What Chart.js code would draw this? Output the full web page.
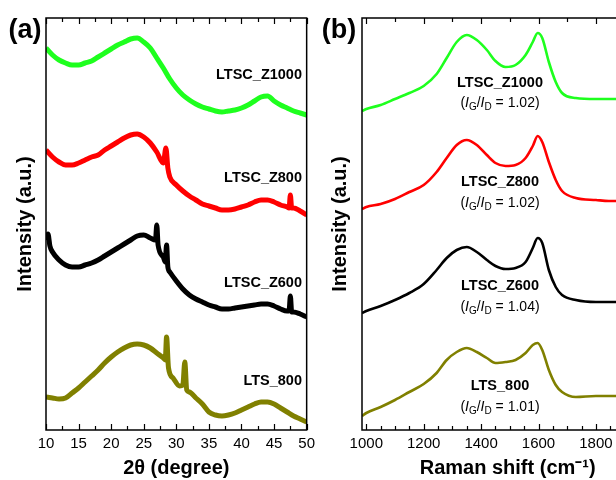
<!DOCTYPE html>
<html>
<head>
<meta charset="utf-8">
<script src="https://cdn.jsdelivr.net/npm/chart.js@4.4.0/dist/chart.umd.min.js"></script>
<style>
  html, body { margin: 0; padding: 0; background: #fff; overflow: hidden; }
  #wrap { position: relative; width: 616px; height: 480px; overflow: hidden; }
  #boxA { position: absolute; left: 0; top: 0; width: 320px; height: 480px; }
  #boxB { position: absolute; left: 310px; top: 0; width: 365px; height: 480px; }
</style>
</head>
<body>
<div id="wrap">
  <div id="boxA"><canvas id="xrdChart"></canvas></div>
  <div id="boxB"><canvas id="ramanChart"></canvas></div>
</div>
<script>
// sample names, top to bottom
const sampleNames = ['LTSC_Z1000', 'LTSC_Z800', 'LTSC_Z600', 'LTS_800'];
const seriesColors = ['#1eff1e', '#ff0000', '#000000', '#808000'];
const ratioValues = ['1.02', '1.02', '1.04', '1.01'];

// (a) XRD, [2theta, intensity (a.u., offset)]
const xrdTicks = [10, 15, 20, 25, 30, 35, 40, 45, 50];
const xrdZ1000 = [[10,382],[11,375],[12,370],[13,367],[14,365],[15,365],[16,367],[17,369],[18,373],[19,377],[20,381],[21,385],[22,388],[23,391],[24,392],[25,388],[26,382],[27,372],[28,362],[29,351],[30,342],[31,335],[32,330],[33,326],[34,323],[35,321],[36,319],[37,318],[38,319],[39,320],[40,322],[41,325],[42,329],[43,333],[44,334],[45,329],[46,325],[47,322],[48,319],[49,317],[50,315]];
const xrdZ800 = [[10,280],[11,273],[12,268],[13,265],[14,265],[15,267],[16,270],[17,273],[18,275],[19,280],[20,284],[21,288],[22,292],[23,295],[24,296],[25,293],[26,287],[27,278],[28,267],[28.4,282],[28.7,262],[29,253],[30,245],[31,239],[32,234],[33,230],[34,226],[35,224],[36,222],[37,220],[38,220],[39,221],[40,223],[41,225],[42,228],[43,230],[44,230],[45,228],[46,225],[47,223],[47.3,222],[47.5,235],[47.7,222],[48,222],[49,219],[50,215]];
const xrdZ600 = [[10,190],[10.3,196],[10.6,184],[11,178],[12,170],[13,165],[14,163],[15,163],[16,165],[17,167],[18,170],[19,174],[20,178],[21,182],[22,186],[23,190],[24,194],[25,195],[26,192],[26.8,190],[27,205],[27.2,185],[28,173],[28.3,168],[28.5,185],[28.7,163],[29,158],[30,149],[31,141],[32,135],[33,131],[34,128],[35,125],[36,123],[37,121],[38,121],[39,122],[40,123],[41,124],[42,125],[43,126],[44,126],[45,124],[46,121],[47,119],[47.3,119],[47.5,134],[47.7,118],[48,118],[49,116],[50,113]];
const xrdLTS800 = [[10,33],[11,32],[12,31],[13,32],[14,37],[15,42],[16,48],[17,54],[18,60],[19,67],[20,73],[21,78],[22,82],[23,85],[24,86],[25,85],[26,82],[27,77],[28,72],[28.3,70],[28.5,93],[28.8,62],[29.5,52],[30.5,44],[31,45],[31.3,68],[31.6,40],[32,38],[33,32],[34,26],[35,18],[36,15],[37,14],[38,15],[39,17],[40,20],[41,23],[42,26],[43,28],[44,28],[45,26],[46,22],[47,18],[48,14],[49,11],[50,8]];

// (b) Raman
const ramanTicks = [1000, 1200, 1400, 1600, 1800, 2000];
const ramanShift = [985, 1000, 1050, 1100, 1150, 1200, 1245, 1280, 1315, 1350, 1385, 1420, 1450, 1485, 1520, 1555, 1580, 1597, 1613, 1636, 1660, 1682, 1730, 1800, 1845, 1900, 2000];
const ramanZ1000 = [319, 321, 325, 331, 337, 344, 356, 372, 388, 395, 390, 380, 369, 363, 365, 375, 388, 397, 392, 368, 348, 337, 332, 331, 331, 331, 331];
const ramanZ800 = [221, 223, 226, 231, 238, 245, 258, 272, 285, 290, 285, 275, 267, 264, 265, 272, 284, 294, 288, 268, 250, 239, 232, 230, 229, 229, 229];
const ramanZ600 = [117, 119, 124, 130, 137, 146, 160, 172, 180, 183, 178, 170, 164, 161, 162, 168, 182, 192, 187, 160, 143, 135, 130, 128, 128, 128, 128];
const ramanLTS800 = [14, 17, 23, 30, 38, 46, 57, 70, 78, 82, 78, 72, 67, 68, 70, 77, 85, 87, 80, 60, 45, 38, 33, 34, 34, 34, 34];

const FONT = '"Liberation Sans", Arial, sans-serif';
Chart.defaults.font.family = FONT;
Chart.defaults.color = '#000';

// draws frame, inward ticks, panel letter and sample labels
const panelDeco = {
  id: 'panelDeco',
  afterDatasetsDraw(chart, args, o) {
    const ctx = chart.ctx;
    const a = chart.chartArea;
    const x = chart.scales.x;
    ctx.save();
    ctx.strokeStyle = '#000';
    ctx.lineWidth = 1.5;
    ctx.strokeRect(a.left, a.top, a.right - a.left, a.bottom - a.top);
    ctx.lineWidth = 1.2;
    ctx.beginPath();
    const marks = (step, y, dir) => {
      for (let v = Math.ceil(x.min / step) * step; v <= x.max; v += step) {
        const px = Math.round(x.getPixelForValue(v)) + 0.5;
        const len = (Math.abs(v % o.major) < 1e-6) ? 6 : 4;
        ctx.moveTo(px, y);
        ctx.lineTo(px, y + dir * len);
      }
    };
    marks(o.bottomStep, a.bottom, -1);
    marks(o.topStep, a.top, 1);
    ctx.stroke();

    ctx.fillStyle = '#000';
    ctx.font = 'bold 27px ' + FONT;
    ctx.textAlign = 'center';
    ctx.textBaseline = 'middle';
    ctx.fillText(o.letter, o.letterX, 31);

    sampleNames.forEach((name, i) => {
      ctx.font = 'bold 14.5px ' + FONT;
      ctx.textAlign = o.align;
      ctx.fillText(name, o.labelX, o.labelY[i]);
      if (o.ratioY) drawRatio(ctx, o.labelX, o.ratioY[i], ratioValues[i]);
    });
    ctx.restore();
  }
};

function drawRatio(ctx, cx, cy, val) {
  const parts = [
    ['(', 'n'], ['I', 'i'], ['G', 's'], ['/', 'n'], ['I', 'i'], ['D', 's'], [' = ' + val + ')', 'n']
  ];
  const fontOf = t => t === 'i' ? 'italic 14px ' + FONT : (t === 's' ? '10px ' + FONT : '14px ' + FONT);
  let w = 0;
  parts.forEach(p => { ctx.font = fontOf(p[1]); w += ctx.measureText(p[0]).width; });
  let px = cx - w / 2;
  ctx.textAlign = 'left';
  parts.forEach(p => {
    ctx.font = fontOf(p[1]);
    ctx.fillText(p[0], px, p[1] === 's' ? cy + 4 : cy);
    px += ctx.measureText(p[0]).width;
  });
}

function lineSet(data, color, width) {
  return {
    data: data,
    borderColor: color,
    borderWidth: width,
    pointRadius: 0,
    fill: false,
    cubicInterpolationMode: 'monotone'
  };
}

function fixedTicks(list) {
  return s => { s.ticks = list.map(v => ({ value: v })); };
}

const xrdSeries = [xrdZ1000, xrdZ800, xrdZ600, xrdLTS800];
new Chart(document.getElementById('xrdChart'), {
  type: 'line',
  data: {
    datasets: xrdSeries.map((s, i) => lineSet(s.map(p => ({x: p[0], y: p[1]})), seriesColors[i], 5))
  },
  options: {
    responsive: true,
    maintainAspectRatio: false,
    animation: false,
    layout: { padding: { top: 18, right: 10, left: 0, bottom: 0 } },
    plugins: {
      legend: { display: false },
      tooltip: { enabled: false },
      panelDeco: {
        letter: '(a)', letterX: 25, major: 5, bottomStep: 2.5, topStep: 2.5,
        align: 'right', labelX: 302, labelY: [75, 178, 283, 381]
      }
    },
    scales: {
      x: {
        type: 'linear', min: 10, max: 50,
        grid: { display: false, drawTicks: false },
        border: { display: false },
        afterBuildTicks: fixedTicks(xrdTicks),
        ticks: { font: { size: 15 }, padding: 5, autoSkip: false, maxRotation: 0 },
        title: { display: true, text: '2θ (degree)', font: { size: 20, weight: 'bold' }, padding: { top: 0, bottom: 0 } },
        afterFit: s => { s.height = 50; }
      },
      y: {
        min: 0, max: 412,
        grid: { display: false, drawTicks: false },
        border: { display: false },
        ticks: { display: false },
        title: { display: true, text: 'Intensity (a.u.)', font: { size: 20, weight: 'bold' }, padding: { top: 13, bottom: 0 } },
        afterFit: s => { s.width = 46; }
      }
    }
  },
  plugins: [panelDeco]
});

const ramanSeries = [ramanZ1000, ramanZ800, ramanZ600, ramanLTS800];
new Chart(document.getElementById('ramanChart'), {
  type: 'line',
  data: {
    datasets: ramanSeries.map((s, i) => lineSet(s.map((v, k) => ({x: ramanShift[k], y: v})), seriesColors[i], 2.6))
  },
  options: {
    responsive: true,
    maintainAspectRatio: false,
    animation: false,
    layout: { padding: { top: 18, right: 20, left: 0, bottom: 0 } },
    plugins: {
      legend: { display: false },
      tooltip: { enabled: false },
      panelDeco: {
        letter: '(b)', letterX: 29, major: 200, bottomStep: 50, topStep: 100,
        align: 'center', labelX: 190, labelY: [83, 182, 286, 386], ratioY: [103, 203, 307, 407]
      }
    },
    scales: {
      x: {
        type: 'linear', min: 985, max: 2000,
        grid: { display: false, drawTicks: false },
        border: { display: false },
        afterBuildTicks: fixedTicks(ramanTicks),
        ticks: { font: { size: 15 }, padding: 5, autoSkip: false, maxRotation: 0, callback: v => String(v) },
        title: { display: true, text: 'Raman shift (cm⁻¹)', font: { size: 20, weight: 'bold' }, padding: { top: 0, bottom: 0 } },
        afterFit: s => { s.height = 50; }
      },
      y: {
        min: 0, max: 412,
        grid: { display: false, drawTicks: false },
        border: { display: false },
        ticks: { display: false },
        title: { display: true, text: 'Intensity (a.u.)', font: { size: 20, weight: 'bold' }, padding: { top: 18, bottom: 0 } },
        afterFit: s => { s.width = 52; }
      }
    }
  },
  plugins: [panelDeco]
});
</script>
</body>
</html>
